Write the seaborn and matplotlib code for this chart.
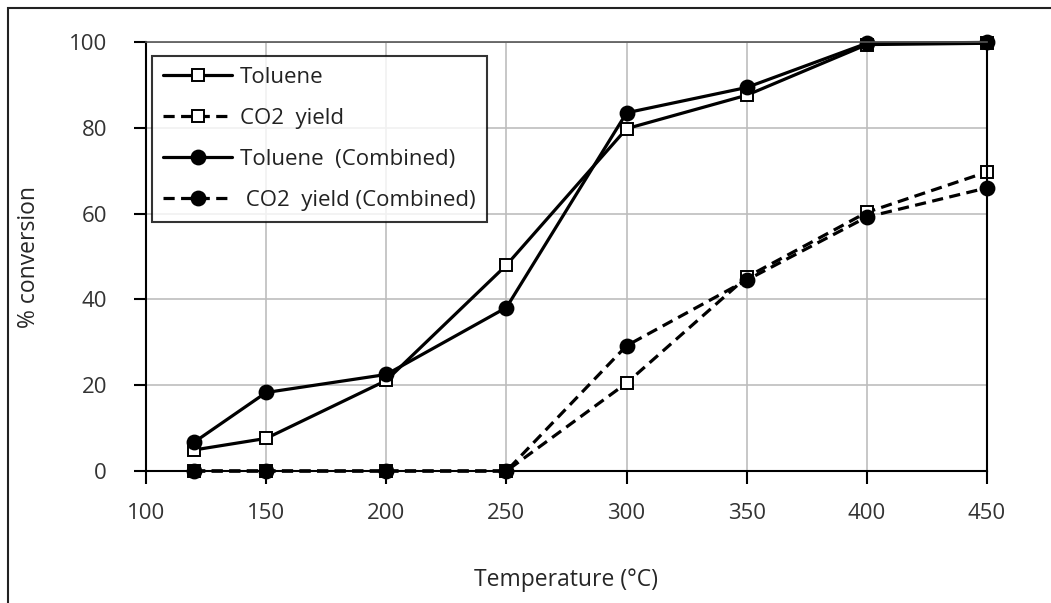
import matplotlib
matplotlib.use("Agg")
import matplotlib.pyplot as plt
import seaborn as sns
import pandas as pd
from matplotlib.patches import Rectangle

temperature = [120, 150, 200, 250, 300, 350, 400, 450]
toluene = [4.9, 7.6, 21.1, 48.0, 79.8, 87.6, 99.4, 99.7]
co2_yield = [0, 0, 0, 0, 20.5, 45.2, 60.3, 69.7]
toluene_comb = [6.7, 18.3, 22.5, 38.1, 83.5, 89.4, 99.7, 99.9]
co2_yield_comb = [0, 0, 0, 0, 29.2, 44.5, 59.2, 66.0]

labels = ["Toluene", "CO2  yield", "Toluene  (Combined)", " CO2  yield (Combined)"]
x_ticks = [100, 150, 200, 250, 300, 350, 400, 450]
y_ticks = [0, 20, 40, 60, 80, 100]

sns.set_theme(style="white")
plt.rcParams['font.family'] = ['Open Sans', 'DejaVu Sans']

fig = plt.figure(figsize=(10.51, 6.03), dpi=100)
ax = fig.add_axes([146/1051, 1-471/603, (987-146)/1051, (471-42)/603])

series = [toluene, co2_yield, toluene_comb, co2_yield_comb]
styles = [
    dict(marker="s", mfc="white", dashes=False),
    dict(marker="s", mfc="white", dashes=True),
    dict(marker="o", mfc="black", dashes=False),
    dict(marker="o", mfc="black", dashes=True),
]
for vals, lab, st in zip(series, labels, styles):
    df = pd.DataFrame({"T": temperature, "v": vals})
    sns.lineplot(data=df, x="T", y="v", ax=ax, color="black", lw=2.3,
                 marker=st["marker"], markersize=9 if st["marker"] == "s" else 10,
                 markerfacecolor=st["mfc"], markeredgecolor="black",
                 markeredgewidth=1.4, label=lab, clip_on=False)
    if st["dashes"]:
        ax.lines[-1].set_dashes([3.5, 2.0])

ax.set_xlim(100, 450)
ax.set_ylim(0, 100)
ax.set_xticks(x_ticks)
ax.set_yticks(y_ticks)
ax.grid(True, color="#bdbdbd", lw=1.2)
ax.set_axisbelow(True)
for s in ["left", "bottom", "right"]:
    ax.spines[s].set_color("black")
    ax.spines[s].set_linewidth(1.5)
ax.spines["top"].set_color("#555555")
ax.spines["top"].set_linewidth(1.2)
ax.tick_params(axis="both", which="major", direction="out", length=9, width=1.5,
               color="black", labelsize=16, labelcolor="#333333", left=True, bottom=True)
ax.tick_params(axis="x", pad=14)
ax.tick_params(axis="y", pad=19)
ax.set_xlabel("Temperature (°C)", fontsize=16.5, labelpad=32)
ax.set_ylabel("% conversion", fontsize=16.5, labelpad=20)

leg = ax.legend(loc="upper left", bbox_to_anchor=((152-146)/841, 1-(56-42)/429),
                fontsize=16, frameon=True, fancybox=False, edgecolor="black",
                handlelength=3.1, handletextpad=0.35, labelspacing=0.9,
                borderpad=0.5, borderaxespad=0)
leg.get_frame().set_linewidth(1.5)
for t in leg.get_texts():
    t.set_color("#222222")

fig.patches.append(Rectangle((8/1051, -0.1), 1.2, 1 - 8/603 + 0.1, transform=fig.transFigure,
                             fill=False, edgecolor="#222222", lw=1.5))
fig.savefig("out.png", dpi=100)
